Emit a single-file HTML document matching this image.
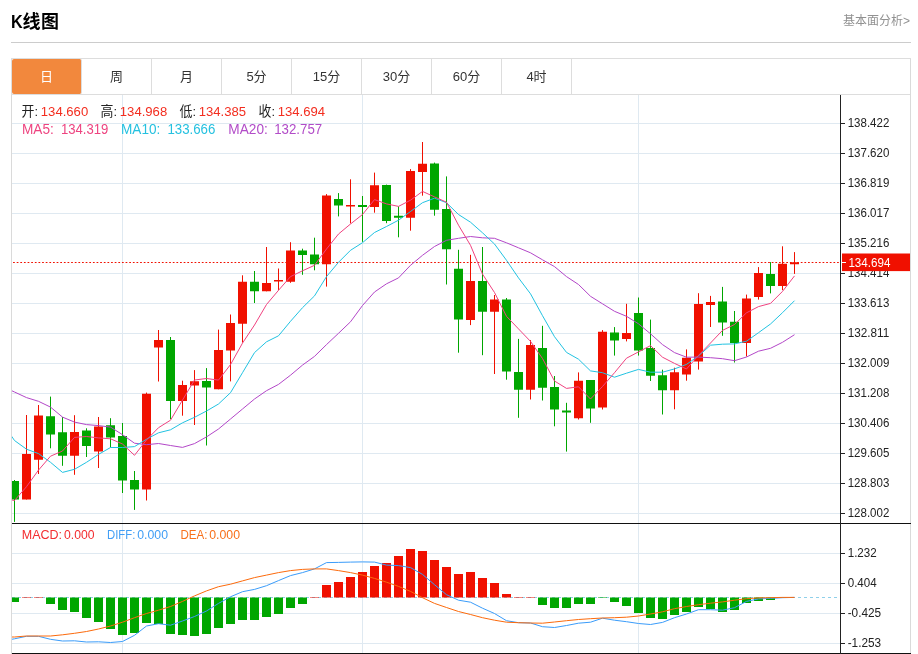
<!DOCTYPE html>
<html lang="zh-CN"><head><meta charset="utf-8"><title>K线图</title>
<style>
html,body{margin:0;padding:0;background:#fff;}
body{width:918px;height:654px;position:relative;overflow:hidden;font-family:"Liberation Sans","Noto Sans CJK SC",sans-serif;}
h2{position:absolute;left:11px;top:10px;margin:0;font-size:18px;line-height:24px;font-weight:bold;color:#000;white-space:nowrap;letter-spacing:0.5px;}
h2 .k{display:inline-block;transform:scaleX(.9);transform-origin:0 50%;margin-right:-1.6px;letter-spacing:0;}
.more{position:absolute;right:8px;top:12px;font-size:12px;line-height:18px;color:#919191;}
.hr{position:absolute;left:11px;top:42px;width:900px;height:1px;background:#ccc;}
ul.tabs{position:absolute;left:11px;top:58px;width:898px;height:35px;margin:0;padding:0;list-style:none;border:1px solid #ddd;background:#fff;}
ul.tabs li{float:left;width:69px;height:35px;line-height:36px;border-right:1px solid #ddd;text-align:center;font-size:13px;color:#333;}
ul.tabs li.on{background:#f2883d;color:#fff;border-radius:2px;}
</style></head>
<body>
<h2><span class="k">K</span>线图</h2>
<div class="more">基本面分析&gt;</div>
<div class="hr"></div>
<ul class="tabs"><li class="on">日</li><li>周</li><li>月</li><li>5分</li><li>15分</li><li>30分</li><li>60分</li><li>4时</li></ul>
<svg width="918" height="654" viewBox="0 0 918 654" style="position:absolute;left:0;top:0" font-family="'Liberation Sans', 'Noto Sans CJK SC', sans-serif"><defs><clipPath id="cp"><rect x="12" y="95" width="828" height="558"/></clipPath></defs><path d="M12 123.5H840M12 153.5H840M12 183.5H840M12 213.5H840M12 243.5H840M12 273.5H840M12 303.5H840M12 333.5H840M12 363.5H840M12 393.5H840M12 423.5H840M12 453.5H840M12 483.5H840M12 513.5H840M12 553.5H840M12 583.5H840M12 613.5H840M12 643.5H840M122.5 95V523M122.5 524V653M362.5 95V523M362.5 524V653M638.5 95V523M638.5 524V653" stroke="#dfe9f1" stroke-width="1" fill="none" shape-rendering="crispEdges"/><path d="M11.5 95V654M910.5 59V654" stroke="#dadada" stroke-width="1" fill="none" shape-rendering="crispEdges"/><path d="M13.06 262.5H838.8" stroke="#f01000" stroke-width="1" stroke-dasharray="1.75 1.88" fill="none"/><g clip-path="url(#cp)"><path d="M26.5 415.0V499.5M38.5 405.0V474.0M74.5 415.2V474.8M98.5 417.0V468.0M146.5 392.6V500.5M158.5 330.0V381.5M182.5 380.7V415.7M194.5 370.1V425.0M218.5 329.6V389.3M230.5 314.5V381.4M242.5 275.3V342.6M266.5 247.0V291.3M278.5 268.5V290.3M290.5 242.2V282.8M326.5 194.1V286.6M350.5 179.3V223.4M374.5 172.6V212.7M410.5 169.1V230.7M422.5 142.0V195.7M470.5 254.8V325.1M494.5 295.0V374.0M530.5 340.1V399.5M578.5 372.4V419.5M602.5 330.1V409.5M626.5 303.8V341.4M674.5 367.7V409.3M686.5 349.4V380.7M698.5 293.2V369.6M710.5 295.9V327.0M746.5 294.6V356.5M758.5 267.1V299.6M782.5 246.3V290.1M794.5 252.1V273.9" stroke="#f01000" stroke-width="1" fill="none"/><path d="M14.5 480.0V521.9M50.5 396.6V448.3M62.5 417.0V465.8M86.5 428.3V457.0M110.5 418.2V447.5M122.5 423.0V493.0M134.5 471.0V509.9M170.5 337.0V419.0M206.5 368.1V445.5M254.5 271.0V303.0M302.5 248.7V274.8M314.5 237.7V270.3M338.5 193.1V216.4M362.5 196.0V241.8M386.5 184.6V223.2M398.5 206.4V237.3M434.5 162.6V215.7M446.5 176.4V284.5M458.5 249.8V352.7M482.5 247.0V355.2M506.5 298.0V379.7M518.5 338.9V417.8M542.5 325.8V400.5M554.5 376.0V426.3M566.5 402.8V451.6M590.5 380.0V422.8M614.5 327.1V355.6M638.5 297.5V355.6M650.5 319.6V381.0M662.5 369.7V414.5M722.5 286.9V335.8M734.5 311.0V362.5M770.5 262.1V293.4" stroke="#00a600" stroke-width="1" fill="none"/><path d="M22.0 454h9V499.5h-9zM34.0 415.5h9V459.7h-9zM70.0 432.1h9V455.7h-9zM94.0 426.6h9V451.5h-9zM142.0 393.8h9V489.5h-9zM154.0 340.1h9V347.5h-9zM178.0 385.1h9V401h-9zM190.0 381.3h9V385.5h-9zM214.0 350.1h9V389.3h-9zM226.0 323h9V350.6h-9zM238.0 281.8h9V323.8h-9zM262.0 283.1h9V291.3h-9zM274.0 280h9V281.6h-9zM286.0 250.5h9V281.8h-9zM322.0 195.6h9V264.3h-9zM346.0 204.9h9V206.4h-9zM370.0 185.2h9V206.9h-9zM406.0 171.1h9V217.7h-9zM418.0 163.8h9V171.9h-9zM466.0 280.9h9V320.1h-9zM490.0 299.5h9V311.8h-9zM526.0 345.1h9V389.7h-9zM574.0 380.7h9V418.3h-9zM598.0 331.8h9V407.5h-9zM622.0 333.1h9V339.1h-9zM670.0 372.2h9V390.2h-9zM682.0 357.7h9V374.4h-9zM694.0 303.9h9V361.6h-9zM706.0 302.1h9V305.1h-9zM742.0 298.4h9V343h-9zM754.0 272.9h9V296.9h-9zM778.0 263.8h9V285.9h-9zM790.0 262.3h9V264.3h-9z" fill="#f01000"/><path d="M10.0 481h9V499.5h-9zM46.0 416.3h9V434.4h-9zM58.0 432.3h9V455.7h-9zM82.0 430.6h9V445.9h-9zM106.0 425.3h9V437.4h-9zM118.0 436.1h9V480.6h-9zM130.0 479.9h9V489.6h-9zM166.0 340.1h9V401h-9zM202.0 381.1h9V387.5h-9zM250.0 281.8h9V291.3h-9zM298.0 250.5h9V255h-9zM310.0 254.5h9V264.3h-9zM334.0 198.9h9V205.6h-9zM358.0 205.1h9V207.1h-9zM382.0 185.1h9V221h-9zM394.0 215.7h9V217.7h-9zM430.0 163.6h9V209.7h-9zM442.0 208.9h9V249.3h-9zM454.0 268.8h9V319.6h-9zM478.0 280.9h9V311.8h-9zM502.0 299.5h9V371.5h-9zM514.0 372h9V389.7h-9zM538.0 348h9V387.7h-9zM550.0 387.1h9V409.6h-9zM562.0 410.4h9V412.4h-9zM586.0 380h9V408.5h-9zM610.0 332.6h9V340.6h-9zM634.0 313.1h9V350.4h-9zM646.0 348.1h9V375.7h-9zM658.0 375.2h9V390.2h-9zM718.0 301.4h9V322.4h-9zM730.0 321.7h9V343h-9zM766.0 273.9h9V285.9h-9z" fill="#00a600"/><path d="M12 597.5H838" stroke="#8fd0ea" stroke-width="1" stroke-dasharray="3 3" fill="none" shape-rendering="crispEdges"/><path d="M322.0 585h9V597.55h-9zM334.0 582h9V597.55h-9zM346.0 577h9V597.55h-9zM358.0 572h9V597.55h-9zM370.0 566h9V597.55h-9zM382.0 563h9V597.55h-9zM394.0 556h9V597.55h-9zM406.0 549h9V597.55h-9zM418.0 551h9V597.55h-9zM430.0 560h9V597.55h-9zM442.0 567h9V597.55h-9zM454.0 574h9V597.55h-9zM466.0 572h9V597.55h-9zM478.0 578h9V597.55h-9zM490.0 583h9V597.55h-9zM502.0 594h9V597.55h-9z" fill="#f01000"/><path d="M10.0 597.45h9V602h-9zM46.0 597.45h9V604h-9zM58.0 597.45h9V610h-9zM70.0 597.45h9V612h-9zM82.0 597.45h9V618h-9zM94.0 597.45h9V622h-9zM106.0 597.45h9V629h-9zM118.0 597.45h9V635h-9zM130.0 597.45h9V633h-9zM142.0 597.45h9V623h-9zM154.0 597.45h9V624h-9zM166.0 597.45h9V634h-9zM178.0 597.45h9V635h-9zM190.0 597.45h9V636h-9zM202.0 597.45h9V634h-9zM214.0 597.45h9V628h-9zM226.0 597.45h9V624h-9zM238.0 597.45h9V620h-9zM250.0 597.45h9V620h-9zM262.0 597.45h9V617h-9zM274.0 597.45h9V614h-9zM286.0 597.45h9V608h-9zM298.0 597.45h9V604h-9zM538.0 597.45h9V605h-9zM550.0 597.45h9V608h-9zM562.0 597.45h9V608h-9zM574.0 597.45h9V604h-9zM586.0 597.45h9V604h-9zM610.0 597.45h9V602h-9zM622.0 597.45h9V606h-9zM634.0 597.45h9V613h-9zM646.0 597.45h9V618h-9zM658.0 597.45h9V619h-9zM670.0 597.45h9V615h-9zM682.0 597.45h9V612h-9zM694.0 597.45h9V607h-9zM706.0 597.45h9V609h-9zM718.0 597.45h9V612h-9zM730.0 597.45h9V610h-9zM742.0 597.45h9V603h-9zM754.0 597.45h9V601h-9zM766.0 597.45h9V600h-9z" fill="#00a600"/><path d="M22.0 597.1h9v0.5h-9zM34.0 597.1h9v0.5h-9zM310.0 597.1h9v0.5h-9zM514.0 597.1h9v0.5h-9zM526.0 597.1h9v0.5h-9z" fill="#f01000"/><path d="M598.0 597.4h9v0.5h-9zM778.0 597.4h9v0.5h-9z" fill="#00a600"/><polyline points="11.5,390.6 14.5,392.0 26.5,397.6 38.5,401.3 50.5,407.1 62.5,417.1 74.5,422.1 86.5,424.6 98.5,425.6 110.5,427.1 122.5,434.7 134.5,443.2 146.5,444.7 158.5,443.5 170.5,445.5 182.5,447.4 194.5,443.6 206.5,436.9 218.5,429.0 230.5,419.0 242.5,409.0 254.5,399.0 266.5,390.7 278.5,384.4 290.5,375.2 302.5,365.1 314.5,356.4 326.5,344.6 338.5,333.3 350.5,321.8 362.5,305.5 374.5,292.0 386.5,283.8 398.5,277.9 410.5,265.3 422.5,255.3 434.5,246.5 446.5,240.3 458.5,238.3 470.5,236.5 482.5,237.8 494.5,238.3 506.5,242.8 518.5,247.8 530.5,252.8 542.5,259.8 554.5,266.6 566.5,276.6 578.5,284.5 590.5,296.3 602.5,303.8 614.5,311.3 626.5,316.3 638.5,323.8 650.5,333.8 662.5,344.6 674.5,352.6 686.5,357.2 698.5,357.1 710.5,357.7 722.5,358.7 734.5,360.7 746.5,357.0 758.5,351.2 770.5,348.3 782.5,342.3 794.5,334.7" stroke="#b347c8" stroke-width="1.0" fill="none" stroke-linejoin="round"/><polyline points="11.5,436.1 14.5,440.5 26.5,449.2 38.5,453.6 50.5,462.3 62.5,472.4 74.5,469.3 86.5,462.3 98.5,454.4 110.5,447.5 122.5,447.5 134.5,446.6 146.5,439.2 158.5,432.8 170.5,429.8 182.5,422.8 194.5,417.3 206.5,411.0 218.5,404.0 230.5,392.7 242.5,372.7 254.5,352.6 266.5,341.8 278.5,335.8 290.5,321.3 302.5,307.7 314.5,295.9 326.5,276.6 338.5,262.3 350.5,250.3 362.5,242.7 374.5,232.5 386.5,226.5 398.5,220.2 410.5,211.5 422.5,202.7 434.5,198.2 446.5,202.7 458.5,214.5 470.5,222.2 482.5,232.8 494.5,244.0 506.5,260.3 518.5,277.9 530.5,293.8 542.5,315.7 554.5,336.7 566.5,352.4 578.5,359.2 590.5,370.9 602.5,372.7 614.5,377.2 626.5,373.2 638.5,369.4 650.5,372.2 662.5,372.2 674.5,368.9 686.5,364.4 698.5,355.9 710.5,345.2 722.5,344.2 734.5,343.9 746.5,341.2 758.5,332.7 770.5,324.0 782.5,312.7 794.5,300.7" stroke="#22c3e2" stroke-width="1.0" fill="none" stroke-linejoin="round"/><polyline points="11.5,499.9 14.5,500.5 26.5,486.7 38.5,470.1 50.5,456.2 62.5,451.0 74.5,437.4 86.5,436.5 98.5,437.9 110.5,438.8 122.5,444.0 134.5,455.3 146.5,440.0 158.5,427.7 170.5,420.2 182.5,400.1 194.5,380.0 206.5,378.5 218.5,380.1 230.5,364.6 242.5,343.1 254.5,325.0 266.5,304.5 278.5,290.3 290.5,276.6 302.5,270.8 314.5,265.3 326.5,249.0 338.5,234.0 350.5,224.0 362.5,214.5 374.5,199.6 386.5,203.9 398.5,206.4 410.5,200.2 422.5,191.4 434.5,196.9 446.5,202.2 458.5,225.2 470.5,245.3 482.5,274.1 494.5,292.5 506.5,316.3 518.5,328.9 530.5,341.4 542.5,358.5 554.5,381.0 566.5,388.4 578.5,386.8 590.5,399.0 602.5,386.5 614.5,372.7 626.5,358.2 638.5,351.9 650.5,345.6 662.5,357.2 674.5,363.4 686.5,369.0 698.5,355.4 710.5,343.0 722.5,330.4 734.5,324.5 746.5,312.8 758.5,306.6 770.5,303.4 782.5,291.4 794.5,275.9" stroke="#f04380" stroke-width="1.0" fill="none" stroke-linejoin="round"/><polyline points="11.5,639.3 14.5,638.8 26.5,636.3 38.5,636.3 50.5,639.3 62.5,641.0 74.5,640.8 86.5,642.0 98.5,641.8 110.5,642.5 122.5,641.5 134.5,635.3 146.5,626.0 158.5,623.7 170.5,625.2 182.5,621.0 194.5,616.5 206.5,611.0 218.5,603.4 230.5,596.8 242.5,591.7 254.5,589.4 266.5,585.7 278.5,580.6 290.5,575.6 302.5,572.6 314.5,568.9 326.5,562.6 338.5,562.4 350.5,562.1 362.5,561.9 374.5,562.1 386.5,565.1 398.5,565.6 410.5,567.6 422.5,574.4 434.5,584.7 446.5,594.7 458.5,600.2 470.5,602.2 482.5,608.2 494.5,613.5 506.5,620.7 518.5,622.7 530.5,623.0 542.5,626.7 554.5,627.5 566.5,625.5 578.5,623.2 590.5,622.2 602.5,618.2 614.5,620.2 626.5,621.7 638.5,623.5 650.5,624.5 662.5,622.4 674.5,617.7 686.5,614.0 698.5,609.7 710.5,609.7 722.5,610.2 734.5,607.7 746.5,601.4 758.5,598.9 770.5,598.4 782.5,597.7 794.5,597.4" stroke="#3a9cfa" stroke-width="1.0" fill="none" stroke-linejoin="round"/><polyline points="11.5,637.0 14.5,637.0 26.5,636.0 38.5,636.0 50.5,636.0 62.5,634.8 74.5,633.3 86.5,631.5 98.5,629.0 110.5,626.0 122.5,622.2 134.5,617.7 146.5,613.5 158.5,610.2 170.5,606.5 182.5,601.4 194.5,595.9 206.5,590.9 218.5,586.7 230.5,584.2 242.5,580.9 254.5,577.6 266.5,575.1 278.5,572.6 290.5,570.6 302.5,569.4 314.5,568.9 326.5,568.9 338.5,570.6 350.5,572.6 362.5,575.1 374.5,578.4 386.5,582.2 398.5,586.4 410.5,591.4 422.5,597.7 434.5,603.4 446.5,607.5 458.5,611.5 470.5,614.5 482.5,617.7 494.5,620.2 506.5,622.2 518.5,622.7 530.5,623.0 542.5,623.2 554.5,622.0 566.5,620.7 578.5,619.5 590.5,618.7 602.5,618.0 614.5,617.7 626.5,617.2 638.5,616.0 650.5,614.0 662.5,611.8 674.5,608.7 686.5,606.5 698.5,604.7 710.5,603.2 722.5,601.9 734.5,600.2 746.5,598.7 758.5,597.9 770.5,597.7 782.5,597.4 794.5,597.4" stroke="#fc6a0c" stroke-width="1.0" fill="none" stroke-linejoin="round"/></g><path d="M12 523.5H911M12 653.5H911" stroke="#111" stroke-width="1" fill="none" shape-rendering="crispEdges"/><path d="M840.5 95V654" stroke="#222" stroke-width="1" fill="none" shape-rendering="crispEdges"/><path d="M841 123.5H845M841 153.5H845M841 183.5H845M841 213.5H845M841 243.5H845M841 273.5H845M841 303.5H845M841 333.5H845M841 363.5H845M841 393.5H845M841 423.5H845M841 453.5H845M841 483.5H845M841 513.5H845M841 553.5H845M841 583.5H845M841 613.5H845M841 643.5H845" stroke="#222" stroke-width="1" fill="none" shape-rendering="crispEdges"/><g font-size="13.4" fill="#222"><text x="847.7" y="127.4" textLength="41.6" lengthAdjust="spacingAndGlyphs">138.422</text><text x="847.7" y="157.4" textLength="41.6" lengthAdjust="spacingAndGlyphs">137.620</text><text x="847.7" y="187.4" textLength="41.6" lengthAdjust="spacingAndGlyphs">136.819</text><text x="847.7" y="217.4" textLength="41.6" lengthAdjust="spacingAndGlyphs">136.017</text><text x="847.7" y="247.4" textLength="41.6" lengthAdjust="spacingAndGlyphs">135.216</text><text x="847.7" y="277.4" textLength="41.6" lengthAdjust="spacingAndGlyphs">134.414</text><text x="847.7" y="307.4" textLength="41.6" lengthAdjust="spacingAndGlyphs">133.613</text><text x="847.7" y="337.4" textLength="41.6" lengthAdjust="spacingAndGlyphs">132.811</text><text x="847.7" y="367.4" textLength="41.6" lengthAdjust="spacingAndGlyphs">132.009</text><text x="847.7" y="397.4" textLength="41.6" lengthAdjust="spacingAndGlyphs">131.208</text><text x="847.7" y="427.4" textLength="41.6" lengthAdjust="spacingAndGlyphs">130.406</text><text x="847.7" y="457.4" textLength="41.6" lengthAdjust="spacingAndGlyphs">129.605</text><text x="847.7" y="487.4" textLength="41.6" lengthAdjust="spacingAndGlyphs">128.803</text><text x="847.7" y="517.4" textLength="41.6" lengthAdjust="spacingAndGlyphs">128.002</text><text x="847.7" y="557.4" textLength="29" lengthAdjust="spacingAndGlyphs">1.232</text><text x="847.7" y="587.4" textLength="29" lengthAdjust="spacingAndGlyphs">0.404</text><text x="847.7" y="617.4" textLength="33.5" lengthAdjust="spacingAndGlyphs">-0.425</text><text x="847.7" y="647.4" textLength="33.5" lengthAdjust="spacingAndGlyphs">-1.253</text></g><rect x="842" y="253.5" width="68" height="17.6" fill="#f01000"/><path d="M842 262.5H846" stroke="#fff" stroke-width="1" shape-rendering="crispEdges"/><text x="848.4" y="266.5" font-size="13.4" fill="#fff" textLength="42" lengthAdjust="spacingAndGlyphs">134.694</text><text y="115.5" font-size="13.5"><tspan x="21.5" fill="#222" textLength="16.5" lengthAdjust="spacingAndGlyphs">开:</tspan><tspan x="40.8" fill="#f32d1f" textLength="47.4" lengthAdjust="spacingAndGlyphs">134.660</tspan><tspan x="100.5" fill="#222" textLength="16.5" lengthAdjust="spacingAndGlyphs">高:</tspan><tspan x="119.8" fill="#f32d1f" textLength="47.4" lengthAdjust="spacingAndGlyphs">134.968</tspan><tspan x="179.5" fill="#222" textLength="16.5" lengthAdjust="spacingAndGlyphs">低:</tspan><tspan x="198.7" fill="#f32d1f" textLength="47.4" lengthAdjust="spacingAndGlyphs">134.385</tspan><tspan x="258.5" fill="#222" textLength="16.5" lengthAdjust="spacingAndGlyphs">收:</tspan><tspan x="277.7" fill="#f32d1f" textLength="47.4" lengthAdjust="spacingAndGlyphs">134.694</tspan></text><text y="134" font-size="14"><tspan x="22" fill="#ee4480" textLength="31.8" lengthAdjust="spacingAndGlyphs">MA5:</tspan><tspan x="60.9" fill="#ee4480" textLength="47.4" lengthAdjust="spacingAndGlyphs">134.319</tspan><tspan x="121" fill="#25c1e0" textLength="39.3" lengthAdjust="spacingAndGlyphs">MA10:</tspan><tspan x="167.4" fill="#25c1e0" textLength="48" lengthAdjust="spacingAndGlyphs">133.666</tspan><tspan x="228.3" fill="#b24cc8" textLength="39.5" lengthAdjust="spacingAndGlyphs">MA20:</tspan><tspan x="274.2" fill="#b24cc8" textLength="48" lengthAdjust="spacingAndGlyphs">132.757</tspan></text><text y="538.8" font-size="13.3"><tspan x="21.8" fill="#f32d30" textLength="40.3" lengthAdjust="spacingAndGlyphs">MACD:</tspan><tspan x="64" fill="#f32d30" textLength="30.5" lengthAdjust="spacingAndGlyphs">0.000</tspan><tspan x="107" fill="#409ef5" textLength="28.3" lengthAdjust="spacingAndGlyphs">DIFF:</tspan><tspan x="137.3" fill="#409ef5" textLength="30.7" lengthAdjust="spacingAndGlyphs">0.000</tspan><tspan x="180.5" fill="#f8701a" textLength="27" lengthAdjust="spacingAndGlyphs">DEA:</tspan><tspan x="209.2" fill="#f8701a" textLength="30.8" lengthAdjust="spacingAndGlyphs">0.000</tspan></text></svg>
</body></html>
